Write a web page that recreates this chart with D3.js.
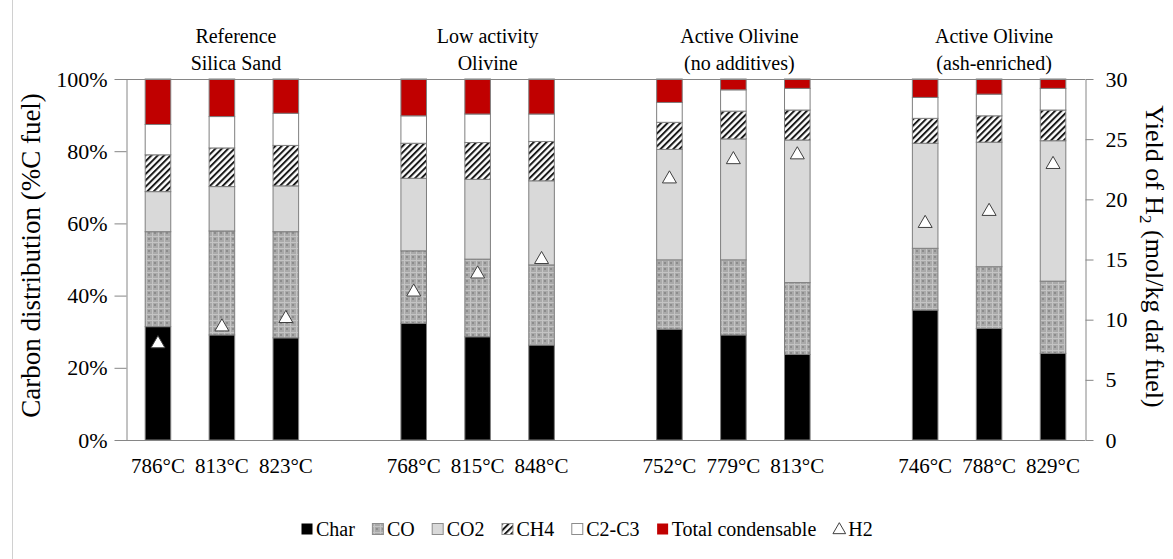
<!DOCTYPE html>
<html>
<head>
<meta charset="utf-8">
<script src="https://cdn.jsdelivr.net/npm/d3@7"></script>
</head>
<body style="margin:0;background:#fff">
<div id="chart"></div>
<script>
// chart data
var groups = [["Reference", "Silica Sand"], ["Low activity", "Olivine"], ["Active Olivine", "(no additives)"], ["Active Olivine", "(ash-enriched)"]];
var temps = ["786°C", "813°C", "823°C", "768°C", "815°C", "848°C", "752°C", "779°C", "813°C", "746°C", "788°C", "829°C"];
var seriesNames = ["Char", "CO", "CO2", "CH4", "C2-C3", "Total condensable"];
var charV = [31.4, 29.1, 28.3, 32.3, 28.6, 26.3, 30.7, 29.1, 23.7, 36.0, 30.9, 24.0];
var coV = [26.3, 28.8, 29.4, 20.1, 21.5, 22.2, 19.2, 20.8, 19.9, 17.1, 17.1, 20.0];
var co2V = [11.1, 12.3, 12.7, 20.1, 22.1, 23.3, 30.6, 33.5, 39.5, 29.1, 34.5, 38.9];
var ch4V = [10.2, 10.7, 11.2, 9.7, 10.2, 10.9, 7.5, 7.7, 8.3, 6.9, 7.3, 8.5];
var c2c3V = [8.4, 8.7, 8.9, 7.6, 7.9, 7.6, 5.5, 5.9, 6.0, 5.8, 6.0, 6.0];
var condV = [12.6, 10.4, 9.5, 10.2, 9.7, 9.7, 6.5, 3.0, 2.6, 5.1, 4.2, 2.6];
var h2V = [8.0, 9.4, 10.1, 12.3, 13.8, 15.0, 21.7, 23.3, 23.7, 18.0, 19.0, 22.9];
var leftTicks = [0, 20, 40, 60, 80, 100];
var rightTicks = [0, 5, 10, 15, 20, 25, 30];

var width = 1173, height = 559;
var margin = { top: 79, right: 88, bottom: 119, left: 126 };
var axisColor = "#868686";
var font = "Liberation Serif";

// slots: 3 bars per group, one empty slot between groups
var slots = [];
temps.forEach(function (t, i) {
	if (i > 0 && i % 3 == 0) slots.push("gap" + i);
	slots.push("b" + i);
});

var rows = temps.map(function (t, i) {
	return { key: "b" + i, temp: t, Char: charV[i], CO: coV[i], CO2: co2V[i], CH4: ch4V[i], "C2-C3": c2c3V[i], "Total condensable": condV[i], h2: h2V[i] };
});

var svg = d3.select("#chart").append("svg")
	.attr("width", width)
	.attr("height", height);

svg.append("rect").attr("width", width).attr("height", height).attr("fill", "#fff");
// frame edge of the original figure
svg.append("line").attr("x1", 12.5).attr("x2", 12.5).attr("y1", 0).attr("y2", height)
	.attr("stroke", "#d0d0d0");

// patterns
var defs = svg.append("defs");
var pCO = defs.append("pattern").attr("id", "patCO").attr("patternUnits", "userSpaceOnUse")
	.attr("width", 6).attr("height", 6);
pCO.append("rect").attr("width", 6).attr("height", 6).attr("fill", "#a9a9a9");
pCO.append("rect").attr("x", 0).attr("y", 2).attr("width", 6).attr("height", 1).attr("fill", "#c4c4c4");
pCO.append("rect").attr("x", 2).attr("y", 0).attr("width", 1).attr("height", 6).attr("fill", "#c4c4c4");
pCO.append("rect").attr("x", 4).attr("y", 4).attr("width", 2).attr("height", 2).attr("fill", "#8c8c8c");

var pCH4 = defs.append("pattern").attr("id", "patCH4").attr("patternUnits", "userSpaceOnUse")
	.attr("width", 4.5).attr("height", 4.5).attr("patternTransform", "rotate(45)");
pCH4.append("rect").attr("width", 4.5).attr("height", 4.5).attr("fill", "#fff");
pCH4.append("line").attr("x1", 1).attr("x2", 1).attr("y1", 0).attr("y2", 4.5)
	.attr("stroke", "#1a1a1a").attr("stroke-width", 2);

var fills = {
	"Char": "#000000",
	"CO": "url(#patCO)",
	"CO2": "#d9d9d9",
	"CH4": "url(#patCH4)",
	"C2-C3": "#ffffff",
	"Total condensable": "#c00000"
};

var x = d3.scaleBand()
	.domain(slots)
	.range([margin.left, width - margin.right])
	.paddingInner(0.6)
	.paddingOuter(0.3);

var y = d3.scaleLinear().domain([0, 100]).range([height - margin.bottom, margin.top]);
var y2 = d3.scaleLinear().domain([0, 30]).range([height - margin.bottom, margin.top]);

var stacked = d3.stack().keys(seriesNames)(rows);

// bars
var layer = svg.append("g").selectAll("g")
	.data(stacked)
	.enter()
	.append("g")
	.attr("fill", function (d) { return fills[d.key]; });

layer.selectAll("rect")
	.data(function (d) { return d; })
	.enter()
	.append("rect")
	.attr("x", function (d) { return x(d.data.key); })
	.attr("y", function (d) { return y(d[1]); })
	.attr("width", x.bandwidth())
	.attr("height", function (d) { return y(d[0]) - y(d[1]); })
	.attr("stroke", "#7f7f7f")
	.attr("stroke-width", 1);

// frame and axes
svg.append("line")
	.attr("x1", margin.left).attr("x2", width - margin.right)
	.attr("y1", margin.top + 0.5).attr("y2", margin.top + 0.5)
	.attr("stroke", axisColor);
svg.append("line")
	.attr("x1", margin.left).attr("x2", width - margin.right)
	.attr("y1", height - margin.bottom + 0.5).attr("y2", height - margin.bottom + 0.5)
	.attr("stroke", axisColor);

var yAxis = svg.append("g")
	.attr("transform", "translate(" + (margin.left + 0.5) + ",0)")
	.call(d3.axisLeft(y).tickValues(leftTicks).tickSize(12).tickSizeOuter(0).tickPadding(7)
		.tickFormat(function (d) { return d + "%"; }));

var yAxis2 = svg.append("g")
	.attr("transform", "translate(" + (width - margin.right + 0.5) + ",0)")
	.call(d3.axisRight(y2).tickValues(rightTicks).tickSize(8).tickSizeOuter(0).tickPadding(12));

[yAxis, yAxis2].forEach(function (ax) {
	ax.attr("font-family", font).attr("font-size", 22);
	ax.select(".domain").attr("stroke", axisColor);
	ax.selectAll(".tick line").attr("stroke", axisColor);
	ax.selectAll(".tick text").attr("fill", "#000");
});

// x labels
svg.append("g")
	.attr("font-family", font)
	.attr("font-size", 21)
	.selectAll("text")
	.data(rows)
	.enter()
	.append("text")
	.attr("x", function (d) { return x(d.key) + x.bandwidth() / 2; })
	.attr("y", 473)
	.attr("text-anchor", "middle")
	.text(function (d) { return d.temp; });

// group titles over the middle bar of each group
var titleShift = [14, 10, 6, 5];
var titles = svg.append("g").attr("font-family", font).attr("font-size", 20);
groups.forEach(function (g, i) {
	var cx = x("b" + (i * 3 + 1)) + x.bandwidth() / 2 + titleShift[i];
	titles.append("text").attr("x", cx).attr("y", 43).attr("text-anchor", "middle").text(g[0]);
	titles.append("text").attr("x", cx).attr("y", 70).attr("text-anchor", "middle").text(g[1]);
});

// H2 markers
var tri = d3.symbol().type(d3.symbolTriangle).size(85);
svg.append("g").selectAll("path")
	.data(rows)
	.enter()
	.append("path")
	.attr("d", tri)
	.attr("transform", function (d) {
		return "translate(" + (x(d.key) + x.bandwidth() / 2) + "," + y2(d.h2) + ")";
	})
	.attr("fill", "#fff")
	.attr("stroke", "#3f3f3f")
	.attr("stroke-width", 1);

// axis titles
var midY = (margin.top + height - margin.bottom) / 2;
svg.append("g")
	.attr("font-family", font)
	.attr("font-size", 27)
	.attr("transform", "translate(40," + (midY - 4) + ") rotate(-90)")
	.append("text")
	.attr("text-anchor", "middle")
	.text("Carbon distribution (%C fuel)");

var rt = svg.append("g")
	.attr("font-family", font)
	.attr("font-size", 26)
	.attr("transform", "translate(1146," + (midY - 3) + ") rotate(90)")
	.append("text")
	.attr("text-anchor", "middle");
rt.append("tspan").text("Yield of H");
rt.append("tspan").attr("dy", 6).attr("font-size", 17).text("2");
rt.append("tspan").attr("dy", -6).text(" (mol/kg daf fuel)");

// legend, laid out from the measured text widths
var legendItems = seriesNames.concat(["H2"]);
var legend = svg.append("g").attr("font-family", font).attr("font-size", 20);
var lx = 0;
legendItems.forEach(function (name, i) {
	var g = legend.append("g").attr("transform", "translate(" + lx + ",0)");
	if (name == "H2") {
		g.append("path")
			.attr("d", d3.symbol().type(d3.symbolTriangle).size(70))
			.attr("transform", "translate(6,-6)")
			.attr("fill", "#fff")
			.attr("stroke", "#3f3f3f");
	} else {
		g.append("rect")
			.attr("x", 0.5).attr("y", -12.5)
			.attr("width", 11).attr("height", 11)
			.attr("fill", fills[name])
			.attr("stroke", name == "Char" || name == "Total condensable" ? "none" : "#8c8c8c");
	}
	var t = g.append("text")
		.attr("x", 15)
		.attr("y", 0)
		.text(name);
	lx += 15 + t.node().getComputedTextLength() + 17;
});
var legendW = lx - 17;
legend.attr("transform", "translate(" + Math.round(width / 2 - legendW / 2) + ",536)");
</script>
</body>
</html>
